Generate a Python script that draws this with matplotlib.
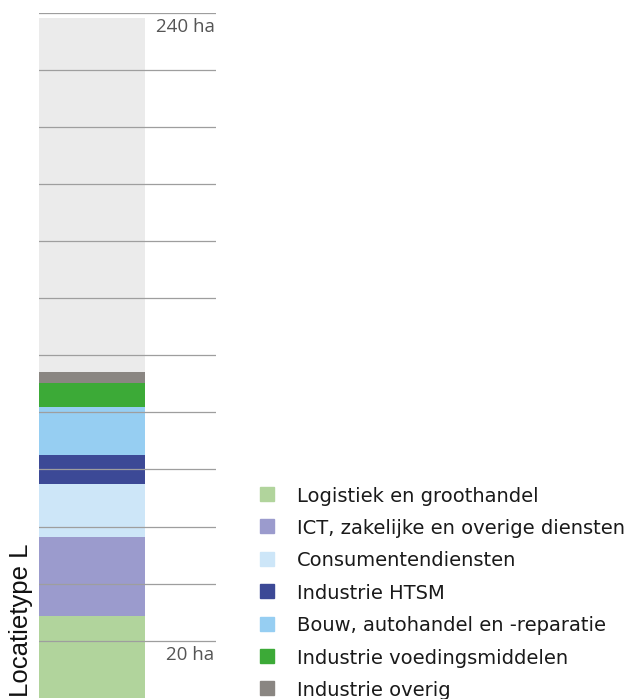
import matplotlib
matplotlib.use("Agg")
import matplotlib.pyplot as plt
from matplotlib.patches import Rectangle

# Area per sector (ha) on Locatietype L, stacked bottom to top
sectors = [
    "Logistiek en groothandel",
    "ICT, zakelijke en overige diensten",
    "Consumentendiensten",
    "Industrie HTSM",
    "Bouw, autohandel en -reparatie",
    "Industrie voedingsmiddelen",
    "Industrie overig",
]
area_ha = [28.8, 27.7, 18.5, 10.2, 16.6, 8.4, 3.9]
colors = ["#b1d49c", "#9b9bcd", "#cde6f8", "#3c4996", "#96cef2", "#3caa37", "#8a8682"]

capacity_ha = 238
grid_values = list(range(20, 241, 20))
category = "Locatietype L"

W, H = 626, 699
fig = plt.figure(figsize=(W / 100, H / 100), dpi=100)

# axes spans the bar column plus the gridline extension
ax = fig.add_axes([39 / W, 1.2 / H, (216 - 39) / W, (686.3 - 1.2) / H])
ax.set_xlim(0, 1)
ax.set_ylim(0, 240)
ax.axis("off")

bar_w = 0.6
ax.bar(0, capacity_ha, width=bar_w, align="edge", color="#ebebeb", zorder=1)
bottom = 0
for val, col in zip(area_ha, colors):
    ax.bar(0, val, bottom=bottom, width=bar_w, align="edge", color=col, zorder=2)
    bottom += val

for g in grid_values:
    ax.axhline(g, xmin=0, xmax=1, color="#9e9e9e", lw=0.9, zorder=3)

lab_font = "Open Sans"
for g in (grid_values[-1], grid_values[0]):
    ax.annotate(f"{g} ha", xy=(1, g), xytext=(-1, -3.5),
                textcoords="offset points", ha="right", va="top",
                fontsize=13.5, color="#555555", family=lab_font)

fig.text(21 / W, 1 - 697 / H, category, rotation=90, ha="center", va="bottom",
         fontsize=18.5, color="#111111", family="Liberation Sans")

# legend
row0, step = 494, 32.4
for i, (name, col) in enumerate(zip(sectors, colors)):
    yc = row0 + i * step
    fig.patches.append(Rectangle((260 / W, 1 - (yc + 7) / H), 14 / W, 14 / H,
                                 transform=fig.transFigure, color=col))
    fig.text(297 / W, 1 - yc / H, name, ha="left", va="center_baseline",
             fontsize=14, color="#1a1a1a", family="DejaVu Sans")

fig.savefig("out.png", dpi=100)
